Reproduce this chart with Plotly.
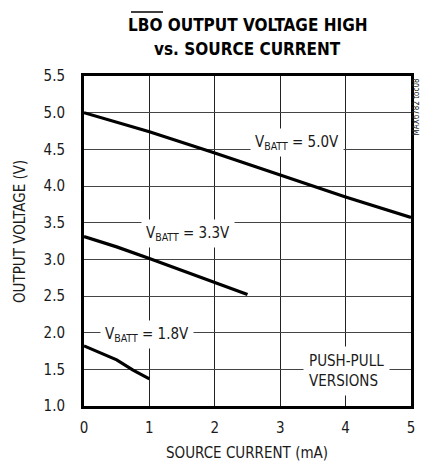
import plotly.graph_objects as go

# Data
x_50 = [0, 1, 2, 3, 4, 5]
y_50 = [5.0, 4.74, 4.45, 4.15, 3.85, 3.57]
x_33 = [0, 0.5, 1, 1.5, 2, 2.5]
y_33 = [3.31, 3.17, 3.01, 2.85, 2.68, 2.52]
x_18 = [0, 0.25, 0.5, 0.75, 1.0]
y_18 = [1.82, 1.73, 1.63, 1.49, 1.37]

x_ticks = [0, 1, 2, 3, 4, 5]
y_ticks = [1.0, 1.5, 2.0, 2.5, 3.0, 3.5, 4.0, 4.5, 5.0, 5.5]
y_tick_text = ["1.0", "1.5", "2.0", "2.5", "3.0", "3.5", "4.0", "4.5", "5.0", "5.5"]

FONT = "DejaVu Sans Condensed, Liberation Sans Narrow, sans-serif"
FS = 15
TXT = "#1a1a1a"

fig = go.Figure()
for xs, ys in [(x_50, y_50), (x_33, y_33), (x_18, y_18)]:
    fig.add_trace(go.Scatter(x=xs, y=ys, mode="lines",
                             line=dict(color="black", width=3.2),
                             showlegend=False, hoverinfo="skip"))

labels = [
    (3.25, 4.6, "V<sub>BATT</sub> = 5.0V"),
    (1.59, 3.35, "V<sub>BATT</sub> = 3.3V"),
    (0.97, 1.97, "V<sub>BATT</sub> = 1.8V"),
]
for lx, ly, txt in labels:
    fig.add_annotation(x=lx, y=ly, text=txt, showarrow=False,
                       font=dict(family=FONT, size=FS, color=TXT),
                       bgcolor="white", borderpad=4)

fig.add_annotation(x=4.02, y=1.48, text="PUSH-PULL<br>VERSIONS", showarrow=False,
                   align="left", font=dict(family=FONT, size=FS, color=TXT),
                   bgcolor="white", borderpad=5)

# chart id, rotated, right edge
fig.add_annotation(xref="paper", yref="paper", x=1.018, y=1.0, xanchor="center",
                   yanchor="top", text="MAX6782 toc08", textangle=-90,
                   showarrow=False, font=dict(family=FONT, size=8, color="#222"))

# Title (two lines) with overline on LBO
fig.add_annotation(xref="paper", yref="paper", x=0.5, y=1.156, xanchor="center",
                   yanchor="middle", text="<b>LBO OUTPUT VOLTAGE HIGH</b>",
                   showarrow=False, font=dict(family=FONT, size=17, color="black"))
fig.add_annotation(xref="paper", yref="paper", x=0.5, y=1.083, xanchor="center",
                   yanchor="middle", text="<b>vs. SOURCE CURRENT</b>",
                   showarrow=False, font=dict(family=FONT, size=17, color="black"))
fig.add_shape(type="line", xref="paper", yref="paper",
              x0=(131 - 84) / 327, x1=(163 - 84) / 327,
              y0=(406 - 12) / 330, y1=(406 - 12) / 330,
              line=dict(color="black", width=1.5))

# Axis titles
fig.add_annotation(xref="paper", yref="paper", x=0.497, y=-0.142, xanchor="center",
                   yanchor="middle", text="SOURCE CURRENT (mA)", showarrow=False,
                   font=dict(family=FONT, size=FS, color=TXT))
fig.add_annotation(xref="paper", yref="paper", x=-0.1957, y=0.527, xanchor="center",
                   yanchor="middle", text="OUTPUT VOLTAGE (V)", textangle=-90,
                   showarrow=False, font=dict(family=FONT, size=FS, color=TXT))

fig.update_layout(
    width=422, height=462,
    margin=dict(l=84, r=11, t=76, b=56, autoexpand=False),
    paper_bgcolor="white", plot_bgcolor="white",
    xaxis=dict(range=[0, 5], tickvals=x_ticks, ticks="", showgrid=True,
               gridcolor="#222", gridwidth=1, zeroline=False, automargin=False,
               showline=True, linecolor="black", linewidth=3, mirror=True,
               ticklabelstandoff=6,
               tickfont=dict(family=FONT, size=FS, color=TXT)),
    yaxis=dict(range=[1.0, 5.5], tickvals=y_ticks, ticktext=y_tick_text, ticks="",
               showgrid=True, gridcolor="#444", gridwidth=1, zeroline=False,
               automargin=False, ticklabelstandoff=13,
               showline=True, linecolor="black", linewidth=3, mirror=True,
               tickfont=dict(family=FONT, size=FS, color=TXT)),
)

fig.write_html("out.html", config={"displayModeBar": False, "staticPlot": True},
               post_script="document.body.style.margin='0';")
